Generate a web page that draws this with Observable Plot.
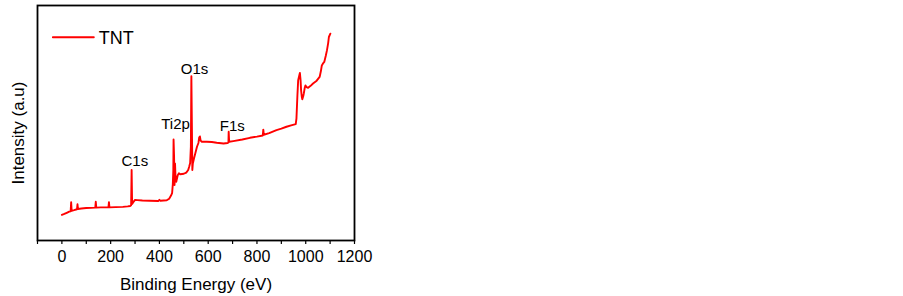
<!DOCTYPE html>
<html><head><meta charset="utf-8">
<script src="https://cdn.jsdelivr.net/npm/d3@7"></script>
<script src="https://cdn.jsdelivr.net/npm/@observablehq/plot@0.6"></script>
<style>html,body{margin:0;padding:0;background:#fff;}</style>
</head><body><div id="chart"></div>
<script>
// XPS survey spectrum (binding energy in eV, intensity in arbitrary units, 0-100 frame scale)
const energy = [0,10,20,30,36,38,40,50,62,64,66,80,100,120,137,139,141,160,191,193,195,220,250,270,280,284,286,288,292,300,310,330,360,395,400,404,430,440,447,452,455,457,458,460,462,464,466,469,475,480,485,493,500,510,518,522,526,529,531,533,535,537,542,547,554,560,563,566,569,574,594,615,635,663,680,683,684,686,703,740,771,800,824,826,828,850,880,900,921,940,959,962,966,969,976,979,981,984,986,990,992,996,999,1003,1010,1020,1030,1045,1057,1062,1066,1072,1076,1082,1087,1092,1095,1101];
const intensity = [10.9,11.3,11.8,12.3,12.4,16.3,12.6,12.9,13.3,15.4,13.4,13.6,13.8,13.9,14.0,16.5,14.0,14.1,14.1,16.3,14.1,14.2,14.3,14.5,14.7,15.0,30.0,15.5,16.2,17.3,17.2,17.0,16.9,16.8,17.3,16.9,17.1,17.8,19.0,20.2,24,30,43,36,23.6,32.8,27,25,27.8,28.6,28.2,28.3,28.4,28.9,30,31.4,33,40,69.9,50,30,32.8,35,37,39.9,41.5,43.8,44.3,42.5,42,42,41.9,41.6,41.3,41.5,41.7,46.3,42,42.3,43,43.7,44.2,44.7,47.2,45,45.7,47,47.6,48.4,49,49.5,52,62,68.2,71.3,68,63.9,61,60.1,61.5,62.5,65,66,65.3,65,65.8,66.8,68,69.6,72,74.5,75.5,76,78.5,80.9,84,86.6,88];

// Peak annotations
const peakNames = ["C1s", "Ti2p", "O1s", "F1s"];
const peakLabelEnergy = [299, 466, 544, 699];
const peakLabelIntensity = [31.5, 47.5, 70.9, 46.5];

// Axis ticks
const xTicks = [-100,0,100,200,300,400,500,600,700,800,900,1000,1100,1200];
const xTickLabels = [0,200,400,600,800,1000,1200];
const xLabel = "Binding Energy (eV)";
const yLabel = "Intensity (a.u)";

// Legend
const seriesName = "TNT";
const legendLineEnergy = [-37, 131];
const legendIntensity = 86.5;
const legendTextEnergy = 151;
const legendTextIntensity = 83.8;

const spectrum = energy.map((e, i) => ({e, v: intensity[i]}));
const peaks = peakNames.map((n, i) => ({n, e: peakLabelEnergy[i], v: peakLabelIntensity[i]}));
const legendLine = legendLineEnergy.map(e => ({e, v: legendIntensity}));

const chart = Plot.plot({
  width: 903,
  height: 296,
  marginLeft: 37,
  marginRight: 549,
  marginTop: 5,
  marginBottom: 56,
  x: {domain: [-100, 1200]},
  y: {domain: [0, 100]},
  style: {fontFamily: "'Liberation Sans', Arial, sans-serif", color: "black", background: "white", overflow: "visible"},
  marks: [
    Plot.axisX({ticks: xTicks, tickFormat: d => xTickLabels.includes(d) ? String(d) : "", tickSize: 4, tickPadding: 6, fontSize: 16, label: null, strokeWidth: 1.2}),
    Plot.axisY({ticks: [], label: null}),
    Plot.line(spectrum, {x: "e", y: "v", stroke: "#ff0000", strokeWidth: 1.9}),
    Plot.text(peaks, {x: "e", y: "v", text: "n", fontSize: 15, lineAnchor: "bottom", fill: "black"}),
    Plot.line(legendLine, {x: "e", y: "v", stroke: "#ff0000", strokeWidth: 1.9}),
    Plot.text([seriesName], {x: legendTextEnergy, y: legendTextIntensity, text: d => d, textAnchor: "start", lineAnchor: "bottom", fontSize: 18, fill: "black"}),
    Plot.frame({stroke: "black", strokeWidth: 1.8}),
    Plot.text([xLabel], {frameAnchor: "bottom", text: d => d, dy: 49, textAnchor: "middle", lineAnchor: "bottom", fontSize: 17, fill: "black"}),
    Plot.text([yLabel], {frameAnchor: "left", text: d => d, dx: -19, dy: 10, textAnchor: "middle", rotate: -90, fontSize: 17, fill: "black"})
  ]
});
document.getElementById("chart").appendChild(chart);
</script>
</body></html>
